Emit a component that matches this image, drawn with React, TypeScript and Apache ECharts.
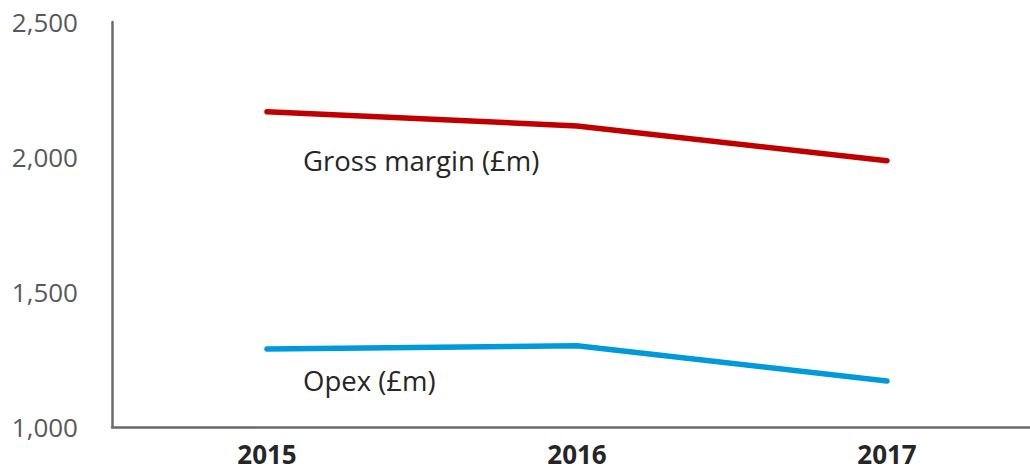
import React, { useEffect, useRef } from "react";
import * as echarts from "echarts";

const categories = ["2015", "2016", "2017"];
const grossMargin = [2168, 2115, 1986];
const opex = [1289, 1301, 1170];
const yTicks = { min: 1000, max: 2500, interval: 500 };
const seriesLabels = ["Gross margin (£m)", "Opex (£m)"];

export default function App() {
  const ref = useRef<HTMLDivElement>(null);
  useEffect(() => {
    if (!ref.current) return;
    const chart = echarts.init(ref.current, undefined, { renderer: "svg" });
    const font = "'Open Sans', 'DejaVu Sans', sans-serif";
    chart.setOption({
      animation: false,
      grid: { left: 112, top: 22, bottom: 44, right: 0, containLabel: false },
      xAxis: {
        type: "category",
        data: categories,
        boundaryGap: true,
        axisLine: { show: true, lineStyle: { color: "#6b6b6b", width: 2.5 } },
        axisTick: { show: false },
        axisLabel: {
          color: "#262626",
          fontFamily: font,
          fontSize: 26,
          lineHeight: 22,
          fontWeight: "bold",
          margin: 16,
        },
        splitLine: { show: false },
      },
      yAxis: {
        type: "value",
        min: yTicks.min,
        max: yTicks.max,
        interval: yTicks.interval,
        axisLine: { show: true, lineStyle: { color: "#6b6b6b", width: 2.5 } },
        axisTick: { show: false },
        splitLine: { show: false },
        axisLabel: {
          color: "#595959",
          fontFamily: font,
          fontSize: 26,
          margin: 34,
          formatter: (v: number) => v.toLocaleString("en-US"),
        },
      },
      series: [
        {
          type: "line",
          name: seriesLabels[0],
          data: grossMargin,
          symbol: "none",
          lineStyle: { color: "#C00000", width: 5.5, cap: "round", join: "round" },
        },
        {
          type: "line",
          name: seriesLabels[1],
          data: opex,
          symbol: "none",
          lineStyle: { color: "#0099DA", width: 5.5, cap: "round", join: "round" },
        },
      ],
      graphic: [
        {
          type: "text",
          x: 303,
          y: 160,
          style: {
            text: seriesLabels[0],
            fill: "#262626",
            font: `27.5px ${font}`,
            textVerticalAlign: "middle",
          },
        },
        {
          type: "text",
          x: 303,
          y: 380,
          style: {
            text: seriesLabels[1],
            fill: "#262626",
            font: `27.5px ${font}`,
            textVerticalAlign: "middle",
          },
        },
      ],
    });
    return () => chart.dispose();
  }, []);
  return (
    <div
      ref={ref}
      style={{ position: "fixed", left: 0, top: 0, width: 1042, height: 471, background: "#fff" }}
    />
  );
}
